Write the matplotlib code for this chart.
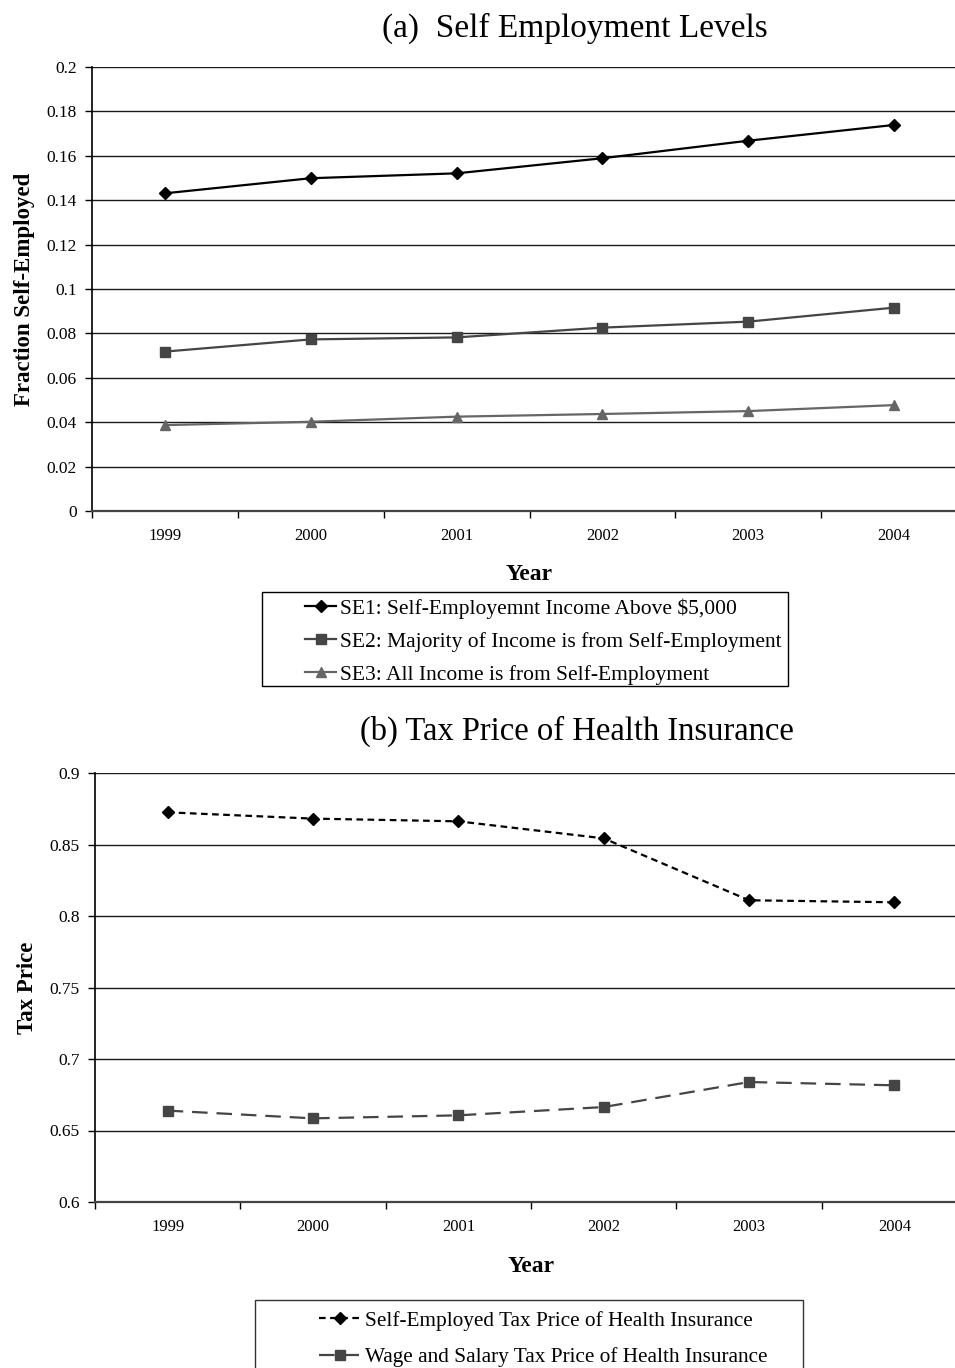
import matplotlib
matplotlib.use("Agg")
import matplotlib.pyplot as plt
from matplotlib.patches import Rectangle

plt.rcParams['font.family'] = ['Liberation Serif', 'DejaVu Serif']

years = ['1999', '2000', '2001', '2002', '2003', '2004']
se1 = [0.1431, 0.1499, 0.1521, 0.1589, 0.1668, 0.1739]
se2 = [0.0718, 0.0773, 0.0782, 0.0826, 0.0853, 0.0916]
se3 = [0.0387, 0.0402, 0.0425, 0.0437, 0.0450, 0.0477]
se_labels = ['SE1: Self-Employemnt Income Above $5,000',
             'SE2: Majority of Income is from Self-Employment',
             'SE3: All Income is from Self-Employment']

tp_self = [0.8725, 0.8681, 0.8662, 0.8543, 0.8110, 0.8096]
tp_wage = [0.6639, 0.6585, 0.6606, 0.6664, 0.6839, 0.6816]
tp_labels = ['Self-Employed Tax Price of Health Insurance',
             'Wage and Salary Tax Price of Health Insurance']

W, H = 955, 1368
fig = plt.figure(figsize=(W / 100, H / 100), dpi=100)


def fx(px):
    return px / W


def fy(py):
    return 1 - py / H


def style_axes(ax, ylo, yhi, step, fmt):
    n = len(years)
    ax.set_xlim(-0.5, n - 0.5)
    ax.set_ylim(ylo, yhi)
    yt = [round(ylo + i * step, 4) for i in range(int(round((yhi - ylo) / step)) + 1)]
    ax.set_yticks(yt)
    ax.set_yticklabels([fmt(v) for v in yt])
    ax.set_xticks([i - 0.5 for i in range(n + 1)])
    ax.set_xticklabels([])
    ax.set_xticks(range(n), minor=True)
    ax.set_xticklabels(years, minor=True)
    ax.tick_params(axis='x', which='major', length=5, width=1, direction='out', color='black')
    ax.tick_params(axis='x', which='minor', length=0, pad=12, labelsize=12)
    ax.tick_params(axis='y', length=5, width=1, direction='out', pad=6, labelsize=12.5)
    ax.grid(axis='y', color='#1a1a1a', linewidth=1.0)
    ax.set_axisbelow(True)
    for s in ['top', 'right']:
        ax.spines[s].set_visible(False)
    ax.spines['left'].set_color('black')
    ax.spines['left'].set_linewidth(1.2)
    ax.spines['bottom'].set_color('#444444')
    ax.spines['bottom'].set_linewidth(1.6)


def yfmt(v):
    return ('%.2f' % v).rstrip('0').rstrip('.')


x = list(range(len(years)))

# Panel (a)
ax1 = fig.add_axes([fx(92), fy(511), fx(967 - 92), (511 - 67) / H])
style_axes(ax1, 0.0, 0.2, 0.02, yfmt)
ax1.plot(x, se1, color='black', lw=1.6, marker='D', ms=6.5, label=se_labels[0])
ax1.plot(x, se2, color='#454545', lw=1.6, marker='s', ms=7.5, label=se_labels[1])
ax1.plot(x, se3, color='#666666', lw=1.6, marker='^', ms=7.5, label=se_labels[2])
ax1.set_xlabel('Year', fontsize=17, fontweight='bold', labelpad=15)
ax1.set_ylabel('Fraction Self-Employed', fontsize=16.5, fontweight='bold', labelpad=8)
fig.text(fx(575), fy(28), '(a)  Self Employment Levels', fontsize=24, ha='center', va='center')

# Panel (b)
ax2 = fig.add_axes([fx(95), fy(1202), fx(967 - 95), (1202 - 773) / H])
style_axes(ax2, 0.6, 0.9, 0.05, yfmt)
ax2.plot(x, tp_self, color='black', lw=1.6, ls=(0, (3, 2)), marker='D', ms=6.5, label=tp_labels[0])
ax2.plot(x, tp_wage, color='#454545', lw=1.6, ls=(0, (7, 4)), marker='s', ms=7.5, label=tp_labels[1])
ax2.set_xlabel('Year', fontsize=17, fontweight='bold', labelpad=15)
ax2.set_ylabel('Tax Price', fontsize=16.5, fontweight='bold', labelpad=8)
fig.text(fx(577), fy(731), '(b) Tax Price of Health Insurance', fontsize=23.5, ha='center', va='center')

# Legend (a)
h1, l1 = ax1.get_legend_handles_labels()
fig.legend(h1, l1, loc='upper left', bbox_to_anchor=(fx(288), fy(581)), frameon=False,
           fontsize=15.5, handlelength=1.45, handletextpad=0.15, labelspacing=0.6, borderpad=0.3)
fig.patches.append(Rectangle((fx(262), fy(686)), fx(788 - 262), (686 - 592) / H,
                             transform=fig.transFigure, fill=False, edgecolor='black', lw=1.0))

# Legend (b)
h2, l2 = ax2.get_legend_handles_labels()
fig.legend(h2, l2, loc='upper left', bbox_to_anchor=(fx(302), fy(1294)), frameon=False,
           fontsize=15.3, handlelength=1.95, handletextpad=0.2, labelspacing=0.78, borderpad=0.3)
fig.patches.append(Rectangle((fx(255), fy(1380)), fx(803 - 255), (1380 - 1300) / H,
                             transform=fig.transFigure, fill=False, edgecolor='#333333', lw=1.0))

fig.savefig('out.png', dpi=100)
